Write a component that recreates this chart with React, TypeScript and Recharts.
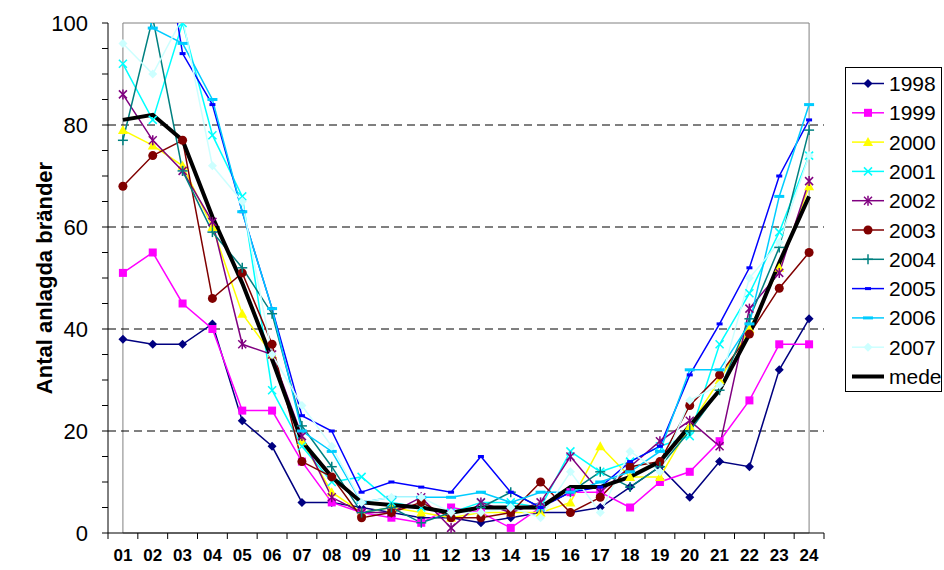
import React from 'react';
import { LineChart, Line, XAxis, YAxis, ReferenceLine, ReferenceArea } from 'recharts';

const hours = ['01','02','03','04','05','06','07','08','09','10','11','12','13','14','15','16','17','18','19','20','21','22','23','24'];

const s1998 = [38,37,37,41,22,17,6,6,5,4,3,3,2,3,4,4,5,9,13,7,14,13,32,42];
const s1999 = [51,55,45,40,24,24,14,6,4,3,2,5,4,1,5,8,8,5,10,12,18,26,37,37];
const s2000 = [79,76,72,60,43,35,18,8,4,5,4,3,4,4,4,6,17,11,11,21,30,40,52,68];
const s2001 = [92,81,100,78,66,28,17,10,11,6,5,4,6,6,5,16,12,14,17,19,37,47,59,74];
const s2002 = [86,77,71,61,37,35,19,7,4,4,7,1,6,4,6,15,8,13,18,22,17,44,51,69];
const s2003 = [68,74,77,46,51,37,14,11,3,4,6,3,3,4,10,4,7,13,14,25,31,39,48,55];
const s2004 = [77,101,71,59,52,43,21,13,4,5,2,4,5,8,5,8,12,9,13,20,28,42,56,79];
const s2005 = [110,130,94,84,63,44,23,20,8,10,9,8,15,8,5,8,9,14,17,31,41,52,70,81];
const s2006 = [113,99,96,85,63,44,20,16,6,7,7,7,8,6,8,8,10,12,16,32,32,41,66,84];
const s2007 = [96,90,101,72,65,35,25,17,6,7,7,4,4,5,3,12,4,16,12,26,29,50,57,74];
const smede = [81,82,77,62,49,34,18,11,6,5.5,5,4,5,5,5,9,9,11,14,21,28,39,53,66];

const yTicks = [0,5,10,15,20,25,30,35,40,45,50,55,60,65,70,75,80,85,90,95,100];
const yLabelTicks = [0,20,40,60,80,100];
const gridValues = [20,40,60,80];

type Shape = 'diamond' | 'square' | 'triangle' | 'x' | 'star' | 'circle' | 'plus' | 'dashS' | 'dashL' | 'none';

const series: { key: string; name: string; color: string; shape: Shape; width: number; values: number[] }[] = [
  { key: 'y1998', name: '1998', color: '#000080', shape: 'diamond', width: 1.5, values: s1998 },
  { key: 'y1999', name: '1999', color: '#FF00FF', shape: 'square', width: 1.5, values: s1999 },
  { key: 'y2000', name: '2000', color: '#FFFF00', shape: 'triangle', width: 1.5, values: s2000 },
  { key: 'y2001', name: '2001', color: '#00FFFF', shape: 'x', width: 1.5, values: s2001 },
  { key: 'y2002', name: '2002', color: '#800080', shape: 'star', width: 1.5, values: s2002 },
  { key: 'y2003', name: '2003', color: '#800000', shape: 'circle', width: 1.5, values: s2003 },
  { key: 'y2004', name: '2004', color: '#008080', shape: 'plus', width: 1.5, values: s2004 },
  { key: 'y2005', name: '2005', color: '#0000FF', shape: 'dashS', width: 1.5, values: s2005 },
  { key: 'y2006', name: '2006', color: '#00CCFF', shape: 'dashL', width: 1.5, values: s2006 },
  { key: 'y2007', name: '2007', color: '#CCFFFF', shape: 'diamond', width: 1.5, values: s2007 },
  { key: 'mede', name: 'mede', color: '#000000', shape: 'none', width: 4, values: smede },
];

const data = hours.map((h, i) => {
  const row: Record<string, string | number> = { hour: h };
  series.forEach((s) => { row[s.key] = s.values[i]; });
  return row;
});

const FONT = '"Liberation Sans", Arial, sans-serif';
const CHART_W = 944;
const CHART_H = 570;
const MARGIN = { top: 23, right: 120, bottom: 0, left: 0 };
const Y_AXIS_W = 108;
const X_AXIS_H = 37;
const PLOT_W = CHART_W - MARGIN.right - Y_AXIS_W;
const HALF_BAND = PLOT_W / hours.length / 2;

function marker(shape: Shape, color: string, cx: number, cy: number, key?: string) {
  switch (shape) {
    case 'diamond':
      return <polygon key={key} points={`${cx},${cy - 4.5} ${cx + 4.5},${cy} ${cx},${cy + 4.5} ${cx - 4.5},${cy}`} fill={color} />;
    case 'square':
      return <rect key={key} x={cx - 4} y={cy - 4} width={8} height={8} fill={color} />;
    case 'triangle':
      return <polygon key={key} points={`${cx},${cy - 5} ${cx + 5},${cy + 4} ${cx - 5},${cy + 4}`} fill={color} />;
    case 'x':
      return (
        <g key={key} stroke={color} strokeWidth={1.5}>
          <line x1={cx - 4} y1={cy - 4} x2={cx + 4} y2={cy + 4} />
          <line x1={cx - 4} y1={cy + 4} x2={cx + 4} y2={cy - 4} />
        </g>
      );
    case 'star':
      return (
        <g key={key} stroke={color} strokeWidth={1.5}>
          <line x1={cx - 4} y1={cy - 4} x2={cx + 4} y2={cy + 4} />
          <line x1={cx - 4} y1={cy + 4} x2={cx + 4} y2={cy - 4} />
          <line x1={cx} y1={cy - 5} x2={cx} y2={cy + 5} />
        </g>
      );
    case 'circle':
      return <circle key={key} cx={cx} cy={cy} r={4.5} fill={color} />;
    case 'plus':
      return (
        <g key={key} stroke={color} strokeWidth={1.5}>
          <line x1={cx - 5} y1={cy} x2={cx + 5} y2={cy} />
          <line x1={cx} y1={cy - 5} x2={cx} y2={cy + 5} />
        </g>
      );
    case 'dashS':
      return <rect key={key} x={cx - 3} y={cy - 1.5} width={6} height={3} fill={color} />;
    case 'dashL':
      return <rect key={key} x={cx - 5} y={cy - 1.5} width={10} height={3} fill={color} />;
    default:
      return <g key={key} />;
  }
}

const makeDot = (shape: Shape, color: string) => (props: any) => {
  const { cx, cy, value, index } = props;
  const k = `dot-${index}`;
  if (cx == null || cy == null || value == null || value > 101.5 || shape === 'none') return <g key={k} />;
  return marker(shape, color, cx, cy, k);
};

const YTick = (props: any) => {
  const { x, y, payload } = props;
  if (!yLabelTicks.includes(payload.value)) return <g />;
  return (
    <text x={x} y={y} textAnchor="end" dominantBaseline="central" fontSize={22} fontFamily={FONT} fill="#000">
      {payload.value}
    </text>
  );
};

const XTick = (props: any) => {
  const { x, y, payload, index } = props;
  const axisY = y - 14;
  return (
    <g>
      <line x1={x - HALF_BAND} y1={axisY} x2={x - HALF_BAND} y2={axisY + 6} stroke="#000" strokeWidth={1} />
      {index === hours.length - 1 && (
        <line x1={x + HALF_BAND} y1={axisY} x2={x + HALF_BAND} y2={axisY + 6} stroke="#000" strokeWidth={1} />
      )}
      <text x={x} y={y + 14} textAnchor="middle" fontSize={17} fontWeight="bold" fontFamily={FONT} fill="#000">
        {payload.value}
      </text>
    </g>
  );
};

const LEG_X = 845.5;
const LEG_Y = 67.5;
const LEG_W = 96;
const LEG_H = 324;
const LEG_ROW0 = 83.5;
const LEG_STEP = 29.3;

export default function App() {
  return (
    <div style={{ position: 'absolute', left: 0, top: 0, width: CHART_W, height: CHART_H, background: '#fff' }}>
      <LineChart width={CHART_W} height={CHART_H} data={data} margin={MARGIN}>
        <ReferenceArea y1={0} y2={100} fill="none" fillOpacity={0} stroke="#808080" strokeWidth={1} ifOverflow="visible" />
        {gridValues.map((v) => (
          <ReferenceLine key={v} y={v} stroke="#000" strokeDasharray="8 5" strokeWidth={1} />
        ))}
        <XAxis
          dataKey="hour"
          type="category"
          height={X_AXIS_H}
          interval={0}
          padding={{ left: HALF_BAND, right: HALF_BAND }}
          tickLine={false}
          tickSize={6}
          tickMargin={8}
          axisLine={{ stroke: '#000', strokeWidth: 1 }}
          tick={<XTick />}
        />
        <YAxis
          type="number"
          width={Y_AXIS_W}
          domain={[0, 100]}
          allowDataOverflow
          ticks={yTicks}
          interval={0}
          tickSize={6}
          tickMargin={14}
          tickLine={{ stroke: '#000' }}
          axisLine={{ stroke: '#000', strokeWidth: 1 }}
          tick={<YTick />}
        />
        {series.map((s) => (
          <Line
            key={s.key}
            dataKey={s.key}
            name={s.name}
            type="linear"
            stroke={s.color}
            strokeWidth={s.width}
            dot={makeDot(s.shape, s.color)}
            activeDot={false}
            isAnimationActive={false}
            connectNulls
          />
        ))}
      </LineChart>
      <svg width={CHART_W} height={CHART_H} style={{ position: 'absolute', left: 0, top: 0, pointerEvents: 'none' }}>
        <text
          x={0}
          y={0}
          transform="translate(44,278) rotate(-90)"
          textAnchor="middle"
          dominantBaseline="central"
          fontSize={22}
          fontWeight="bold"
          fontFamily={FONT}
          fill="#000"
        >
          Antal anlagda bränder
        </text>
        <rect x={LEG_X} y={LEG_Y} width={LEG_W} height={LEG_H} fill="#fff" stroke="#000" strokeWidth={1} />
        {series.map((s, i) => {
          const cy = LEG_ROW0 + i * LEG_STEP;
          return (
            <g key={s.key}>
              <line x1={852} y1={cy} x2={884} y2={cy} stroke={s.color} strokeWidth={s.width === 4 ? 4 : 1.5} />
              {marker(s.shape, s.color, 868, cy)}
              <text x={889} y={cy} dominantBaseline="central" fontSize={21} fontFamily={FONT} fill="#000">
                {s.name}
              </text>
            </g>
          );
        })}
      </svg>
    </div>
  );
}
